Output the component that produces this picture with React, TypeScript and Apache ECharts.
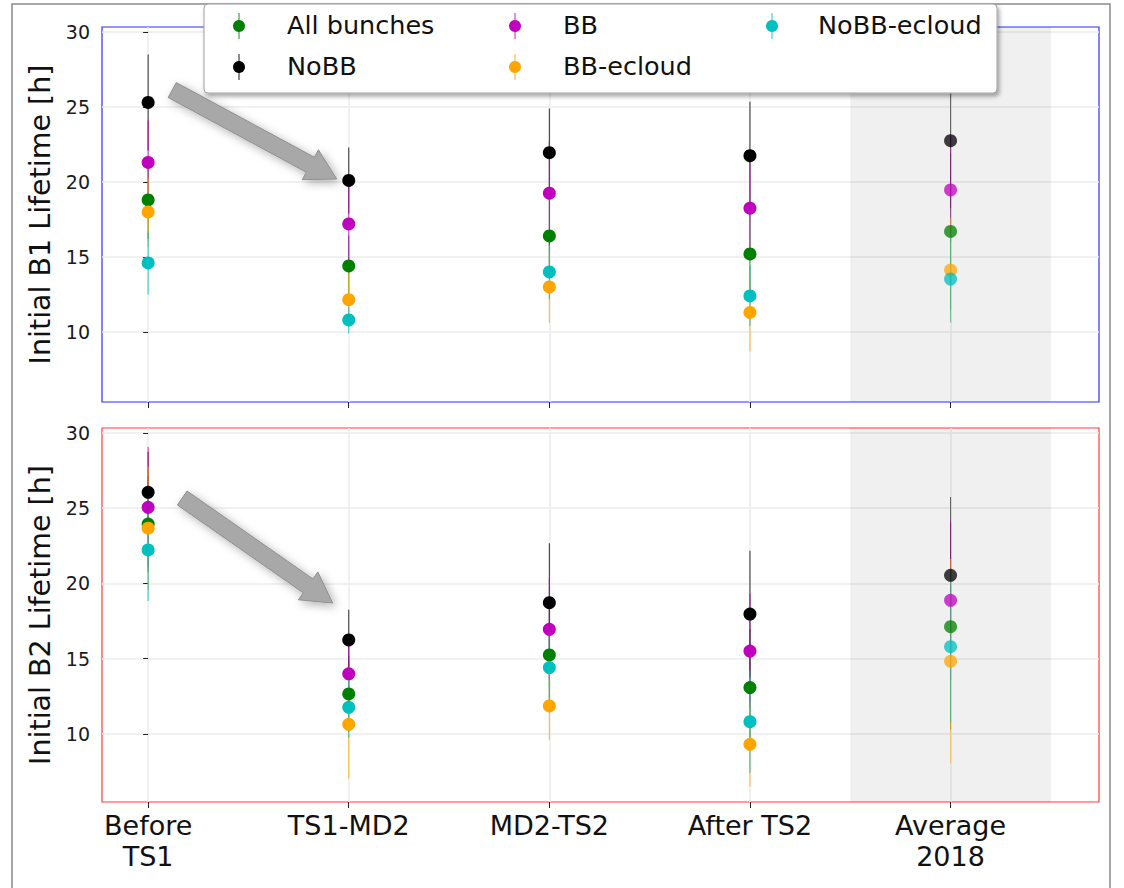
import React, { useEffect, useRef } from 'react';
import * as echarts from 'echarts';

// Run periods along the x axis (the last one is the yearly average)
const periods = ['Before\nTS1', 'TS1-MD2', 'MD2-TS2', 'After TS2', 'Average\n2018'];
const periodIndex = [0, 1, 2, 3, 4];
const averageIndex = 4;

const groupNames = ['All bunches', 'NoBB', 'BB', 'BB-ecloud', 'NoBB-ecloud'];
const groupColors = ['#008000', '#000000', '#bf00bf', '#ffa500', '#00bfbf'];

// Beam 1 initial lifetime [h] and its spread
const b1AllBunches = [18.8, 14.4, 16.4, 15.2, 16.7];
const b1NoBB = [25.3, 20.1, 21.95, 21.75, 22.75];
const b1BB = [21.3, 17.2, 19.25, 18.25, 19.47];
const b1BBecloud = [18.0, 12.15, 13.0, 11.3, 14.13];
const b1NoBBecloud = [14.6, 10.8, 14.0, 12.4, 13.53];

const b1AllBunchesErr = [2.6, 2.0, 2.5, 2.8, 5.2];
const b1NoBBErr = [3.2, 2.2, 2.95, 3.6, 4.5];
const b1BBErr = [2.8, 2.5, 3.5, 3.5, 3.5];
const b1BBecloudErr = [2.3, 1.8, 2.4, 2.6, 3.5];
const b1NoBBecloudErr = [2.1, 0.9, 1.8, 2.0, 2.9];

// Beam 2 initial lifetime [h] and its spread
const b2AllBunches = [23.95, 12.66, 15.25, 13.08, 17.13];
const b2NoBB = [26.06, 16.25, 18.72, 17.97, 20.54];
const b2BB = [25.06, 14.0, 16.95, 15.51, 18.88];
const b2BBecloud = [23.67, 10.64, 11.86, 9.31, 14.83];
const b2NoBBecloud = [22.23, 11.77, 14.41, 10.82, 15.8];

const b2AllBunchesErr = [3.2, 2.5, 3.0, 3.9, 6.85];
const b2NoBBErr = [2.7, 2.0, 3.95, 4.2, 5.2];
const b2BBErr = [4.0, 2.2, 3.4, 3.8, 5.3];
const b2BBecloudErr = [4.1, 3.6, 2.26, 2.8, 6.8];
const b2NoBBecloudErr = [3.4, 2.0, 2.8, 3.4, 5.0];

const yTicks = [10, 15, 20, 25, 30];

// Arrow annotations, in data units: [from, to]
const b1Arrow = [[0.12, 26.13], [0.94, 20.2]];
const b2Arrow = [[0.17, 25.68], [0.92, 18.7]];

const FONT = 'DejaVu Sans';

const panels = [
  {
    title: 'Initial B1 Lifetime [h]',
    values: [b1AllBunches, b1NoBB, b1BB, b1BBecloud, b1NoBBecloud],
    errors: [b1AllBunchesErr, b1NoBBErr, b1BBErr, b1BBecloudErr, b1NoBBecloudErr],
    yMin: 5.333,
    yMax: 30.333,
    border: '#2f2fff',
    arrow: b1Arrow,
  },
  {
    title: 'Initial B2 Lifetime [h]',
    values: [b2AllBunches, b2NoBB, b2BB, b2BBecloud, b2NoBBecloud],
    errors: [b2AllBunchesErr, b2NoBBErr, b2BBErr, b2BBecloudErr, b2NoBBecloudErr],
    yMin: 5.48,
    yMax: 30.33,
    border: '#ff3a3a',
    arrow: b2Arrow,
  },
];

function arrowPoints(p0: number[], p1: number[]) {
  const dx = p1[0] - p0[0];
  const dy = p1[1] - p0[1];
  const len = Math.hypot(dx, dy);
  const ux = dx / len, uy = dy / len;
  const nx = -uy, ny = ux;
  const sh = 8.5, hh = 17, hl = 30;
  const bx = p1[0] - ux * hl, by = p1[1] - uy * hl;
  return [
    [p0[0] + nx * sh, p0[1] + ny * sh],
    [bx + nx * sh, by + ny * sh],
    [bx + nx * hh, by + ny * hh],
    [p1[0], p1[1]],
    [bx - nx * hh, by - ny * hh],
    [bx - nx * sh, by - ny * sh],
    [p0[0] - nx * sh, p0[1] - ny * sh],
  ];
}

export default function App() {
  const ref = useRef<HTMLDivElement>(null);

  useEffect(() => {
    if (!ref.current) return;
    const chart = echarts.init(ref.current, null, { renderer: 'svg' });

    const grids = [
      { left: 102, top: 27, width: 997, height: 375 },
      { left: 102, top: 428, width: 997, height: 374 },
    ];

    const xAxes: any[] = [];
    const yAxes: any[] = [];
    const series: any[] = [];

    panels.forEach((panel, p) => {
      xAxes.push({
        type: 'value',
        gridIndex: p,
        min: -0.23,
        max: 4.74,
        axisLine: { show: false },
        axisTick: {
          show: true,
          customValues: periodIndex,
          length: 6,
          lineStyle: { color: '#222', width: 1 },
        },
        axisLabel: {
          show: p === 1,
          customValues: periodIndex,
          formatter: (v: number) => periods[Math.round(v)],
          fontFamily: FONT,
          fontSize: 27,
          lineHeight: 31,
          color: '#111',
          margin: 8,
        },
        splitLine: { show: true, lineStyle: { color: '#ececec', width: 1.5 } },
      });
      yAxes.push({
        type: 'value',
        gridIndex: p,
        min: panel.yMin,
        max: panel.yMax,
        name: panel.title,
        nameLocation: 'middle',
        nameGap: 47,
        nameTextStyle: { fontFamily: FONT, fontSize: 28.5, color: '#111' },
        axisLine: { show: false },
        axisTick: {
          show: true,
          customValues: yTicks,
          length: 5,
          lineStyle: { color: '#222', width: 1 },
        },
        axisLabel: {
          customValues: yTicks,
          fontFamily: FONT,
          fontSize: 19,
          color: '#1a1a1a',
          margin: 12,
        },
        splitLine: { show: true, lineStyle: { color: '#ececec', width: 1.5 } },
      });

      // shaded band behind the yearly average column
      series.push({
        type: 'line',
        xAxisIndex: p,
        yAxisIndex: p,
        data: [],
        z: 0,
        silent: true,
        markArea: {
          silent: true,
          itemStyle: { color: 'rgba(0,0,0,0.06)' },
          data: [[{ xAxis: averageIndex - 0.5 }, { xAxis: averageIndex + 0.5 }]],
        },
      });

      groupNames.forEach((name, g) => {
        const color = groupColors[g];
        const vals = panel.values[g];
        const errs = panel.errors[g];
        series.push({
          type: 'custom',
          name,
          xAxisIndex: p,
          yAxisIndex: p,
          z: 2,
          silent: true,
          clip: true,
          encode: { x: 0, y: 1 },
          data: periodIndex.map((i) => [i, vals[i], errs[i]]),
          renderItem: (_params: any, api: any) => {
            const x = api.value(0);
            const y = api.value(1);
            const e = api.value(2);
            const top = api.coord([x, y + e]);
            const bot = api.coord([x, y - e]);
            return {
              type: 'line',
              shape: { x1: top[0], y1: top[1], x2: bot[0], y2: bot[1] },
              style: { stroke: color, lineWidth: 1.1, opacity: x === averageIndex ? 0.55 : 0.75 },
            };
          },
        });
      });

      groupNames.forEach((name, g) => {
        const color = groupColors[g];
        const vals = panel.values[g];
        series.push({
          type: 'scatter',
          name,
          xAxisIndex: p,
          yAxisIndex: p,
          z: 3,
          symbol: 'circle',
          symbolSize: 13,
          itemStyle: { color },
          data: periodIndex.map((i) => ({
            value: [i, vals[i]],
            itemStyle: { opacity: i === averageIndex ? 0.75 : 1 },
          })),
        });
      });
    });

    chart.setOption({
      animation: false,
      backgroundColor: '#ffffff',
      grid: grids.map((g, i) => ({
        ...g,
        show: true,
        borderColor: panels[i].border,
        borderWidth: 1.2,
        backgroundColor: 'transparent',
      })),
      xAxis: xAxes,
      yAxis: yAxes,
      series,
    });

    // annotations: arrows, outer frame and the legend box
    const graphics: any[] = [
      {
        type: 'rect',
        z: 50,
        silent: true,
        shape: { x: 12, y: 4, width: 1098, height: 900 },
        style: { fill: 'none', stroke: '#8a8a8a', lineWidth: 1.5 },
      },
    ];

    panels.forEach((panel, p) => {
      const a = chart.convertToPixel({ gridIndex: p }, panel.arrow[0]) as number[];
      const b = chart.convertToPixel({ gridIndex: p }, panel.arrow[1]) as number[];
      graphics.push({
        type: 'polygon',
        z: 40,
        silent: true,
        shape: { points: arrowPoints(a, b) },
        style: {
          fill: '#a8a8a8',
          stroke: '#8f8f8f',
          lineWidth: 1,
          shadowBlur: 10,
          shadowColor: 'rgba(0,0,0,0.3)',
          shadowOffsetX: 3,
          shadowOffsetY: 3,
        },
      });
    });

    const legendSlots = [
      { mx: 239, my: 26, tx: 287 },
      { mx: 239, my: 67, tx: 287 },
      { mx: 515, my: 26, tx: 563 },
      { mx: 515, my: 67, tx: 563 },
      { mx: 772, my: 26, tx: 818 },
    ];
    const LZ = 100;
    graphics.push({
      type: 'rect',
      z: LZ,
      silent: true,
      shape: { x: 204, y: 4, width: 793, height: 89, r: 4 },
      style: {
        fill: '#ffffff',
        stroke: '#a0a0a0',
        lineWidth: 1,
        shadowBlur: 4,
        shadowColor: 'rgba(0,0,0,0.35)',
        shadowOffsetX: 2,
        shadowOffsetY: 3,
      },
    });
    groupNames.forEach((name, g) => {
      const s = legendSlots[g];
      graphics.push(
        {
          type: 'line',
          z: LZ + 1,
          silent: true,
          shape: { x1: s.mx, y1: s.my - 13, x2: s.mx, y2: s.my + 13 },
          style: { stroke: groupColors[g], lineWidth: 1.2, opacity: 0.75 },
        },
        {
          type: 'circle',
          z: LZ + 2,
          silent: true,
          shape: { cx: s.mx, cy: s.my, r: 6 },
          style: { fill: groupColors[g] },
        },
        {
          type: 'text',
          z: LZ + 2,
          silent: true,
          x: s.tx,
          y: s.my - 1,
          style: {
            text: name,
            fontFamily: FONT,
            fontSize: 25.5,
            fill: '#111',
            verticalAlign: 'middle',
            align: 'left',
          },
        }
      );
    });

    chart.setOption({ graphic: graphics });

    return () => chart.dispose();
  }, []);

  return (
    <div
      ref={ref}
      style={{ position: 'absolute', left: 0, top: 0, width: 1124, height: 888 }}
    />
  );
}
